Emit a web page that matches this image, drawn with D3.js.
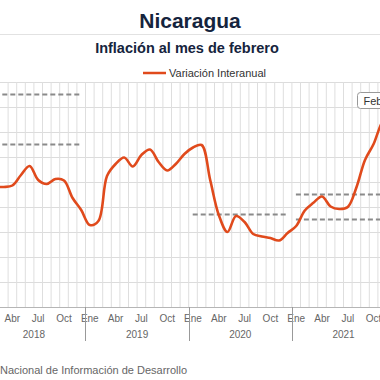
<!DOCTYPE html>
<html>
<head>
<meta charset="utf-8">
<script src="https://cdn.jsdelivr.net/npm/d3@7"></script>
<style>
  body { margin: 0; background: #fff; }
  svg { display: block; font-family: "Liberation Sans", Arial, sans-serif; }
</style>
</head>
<body>
<div id="chart"></div>
<script>
!(function (d3) {

// meses y anios del eje
var meses = ["Ene","Feb","Mar","Abr","May","Jun","Jul","Ago","Sep","Oct","Nov","Dic"];
var anios = [2018, 2019, 2020, 2021, 2022];

// variacion interanual, ene 2018 - feb 2022 (%)
var inflacion = [
  4.76, 4.80, 4.80, 4.86, 5.28, 5.64, 5.08, 4.92, 5.12, 5.06, 4.36, 3.88,
  3.28, 3.44, 5.24, 5.72, 5.98, 5.62, 6.08, 6.30, 5.80, 5.46, 5.72, 6.12,
  6.38, 6.48, 5.08, 3.68, 3.00, 3.64, 3.40, 2.92, 2.82, 2.76, 2.66, 2.96,
  3.24, 3.86, 4.17, 4.42, 4.02, 3.92, 4.00, 4.78, 5.88, 6.52, 7.40, 7.80,
  8.20, 8.60
];

// rangos meta por anio (lineas punteadas)
var metaAnios = [2018, 2018, 2020, 2021, 2021];
var metaValores = [8.5, 6.5, 3.7, 4.5, 3.5];

var width = 380, height = 380;
var top = 82, bottom = 307;
var band = 8.6, x0 = -17.7;

var svg = d3.select("#chart").append("svg")
    .attr("width", width)
    .attr("height", height);

var puntos = inflacion.map(function(v, i) {
  return { i: i, mes: meses[i % 12], anio: anios[Math.floor(i / 12)], v: v };
});

var x = d3.scaleBand()
    .domain(d3.range(puntos.length))
    .range([x0, x0 + band * puntos.length]);

var y = d3.scaleLinear().domain([0, 9]).range([bottom, top]);

// titulos
svg.append("text")
    .attr("x", 190).attr("y", 28)
    .attr("text-anchor", "middle")
    .style("font-size", "21px").style("font-weight", "bold")
    .style("fill", "#15243d")
    .text("Nicaragua");

svg.append("line")
    .attr("x1", 0).attr("x2", width)
    .attr("y1", 34.5).attr("y2", 34.5)
    .style("stroke", "#e2e2e2");

svg.append("text")
    .attr("x", 187).attr("y", 53)
    .attr("text-anchor", "middle")
    .style("font-size", "14.5px").style("font-weight", "bold")
    .style("fill", "#15243d")
    .text("Inflación al mes de febrero");

// leyenda
svg.append("line")
    .attr("x1", 143).attr("x2", 166)
    .attr("y1", 73).attr("y2", 73)
    .style("stroke", "#e04a1c").style("stroke-width", 2.5);

svg.append("text")
    .attr("x", 169).attr("y", 77)
    .style("font-size", "11px").style("fill", "#333")
    .text("Variación Interanual");

// rejilla
var g = svg.append("g");

g.selectAll(".hgrid")
    .data(y.ticks(9).filter(function(d) { return d > 0; }))
  .enter().append("line")
    .attr("class", "hgrid")
    .attr("x1", 0).attr("x2", width)
    .attr("y1", function(d) { return Math.round(y(d)) + 0.5; })
    .attr("y2", function(d) { return Math.round(y(d)) + 0.5; })
    .style("stroke", "#dcdcdc");

g.selectAll(".vgrid")
    .data(puntos)
  .enter().append("line")
    .attr("class", "vgrid")
    .attr("x1", function(d) { return x(d.i); })
    .attr("x2", function(d) { return x(d.i); })
    .attr("y1", top).attr("y2", bottom)
    .style("stroke", "#dedede");

// eje x
g.append("line")
    .attr("x1", 0).attr("x2", width)
    .attr("y1", bottom + 0.5).attr("y2", bottom + 0.5)
    .style("stroke", "#b5b5b5");

// solo las etiquetas que caen dentro del cuadro
g.selectAll(".mes")
    .data(puntos.filter(function(d) { return d.i % 3 === 0 && x(d.i) > 0; }))
  .enter().append("text")
    .attr("class", "mes")
    .attr("x", function(d) { return x(d.i) + x.bandwidth() / 2; })
    .attr("y", 322)
    .attr("text-anchor", "middle")
    .style("font-size", "10px").style("fill", "#666")
    .text(function(d) { return d.mes; });

g.selectAll(".sep")
    .data(anios.slice(1))
  .enter().append("line")
    .attr("class", "sep")
    .attr("x1", function(d) { return Math.round(x((d - 2018) * 12)) + 0.5; })
    .attr("x2", function(d) { return Math.round(x((d - 2018) * 12)) + 0.5; })
    .attr("y1", bottom).attr("y2", 341)
    .style("stroke", "#999");

g.selectAll(".anio")
    .data(anios.slice(0, 4))
  .enter().append("text")
    .attr("class", "anio")
    .attr("x", function(d) { return x((d - 2018) * 12) + band * 6; })
    .attr("y", 338)
    .attr("text-anchor", "middle")
    .style("font-size", "10px").style("fill", "#666")
    .text(function(d) { return d; });

// metas punteadas
g.selectAll(".meta")
    .data(metaValores)
  .enter().append("line")
    .attr("class", "meta")
    .attr("x1", function(d, i) { return x((metaAnios[i] - 2018) * 12) + 4; })
    .attr("x2", function(d, i) { return x((metaAnios[i] - 2018) * 12) + band * 12 - 3.5; })
    .attr("y1", function(d) { return y(d); })
    .attr("y2", function(d) { return y(d); })
    .style("stroke", "#8a8a8a").style("stroke-width", 2)
    .style("stroke-dasharray", "5,3");

// linea de inflacion
var linea = d3.line()
    .x(function(d) { return x(d.i) + x.bandwidth() / 2; })
    .y(function(d) { return y(d.v); })
    .curve(d3.curveCatmullRom.alpha(0.5));

g.append("path")
    .datum(puntos)
    .attr("d", linea)
    .style("fill", "none")
    .style("stroke", "#e04a1c")
    .style("stroke-width", 2.6)
    .style("stroke-linejoin", "round");

// tooltip recortado
var tip = svg.append("g").attr("transform", "translate(357.5,92.5)");
tip.append("rect")
    .attr("width", 60).attr("height", 16)
    .attr("rx", 3)
    .style("fill", "#fff").style("stroke", "#999");
tip.append("text")
    .attr("x", 6).attr("y", 12)
    .style("font-size", "11px").style("fill", "#333")
    .text("Feb");

// fuente
svg.append("text")
    .attr("x", 0).attr("y", 374)
    .style("font-size", "11px").style("fill", "#666")
    .text("Nacional de Información de  Desarrollo");

})(d3);
</script>
</body>
</html>
